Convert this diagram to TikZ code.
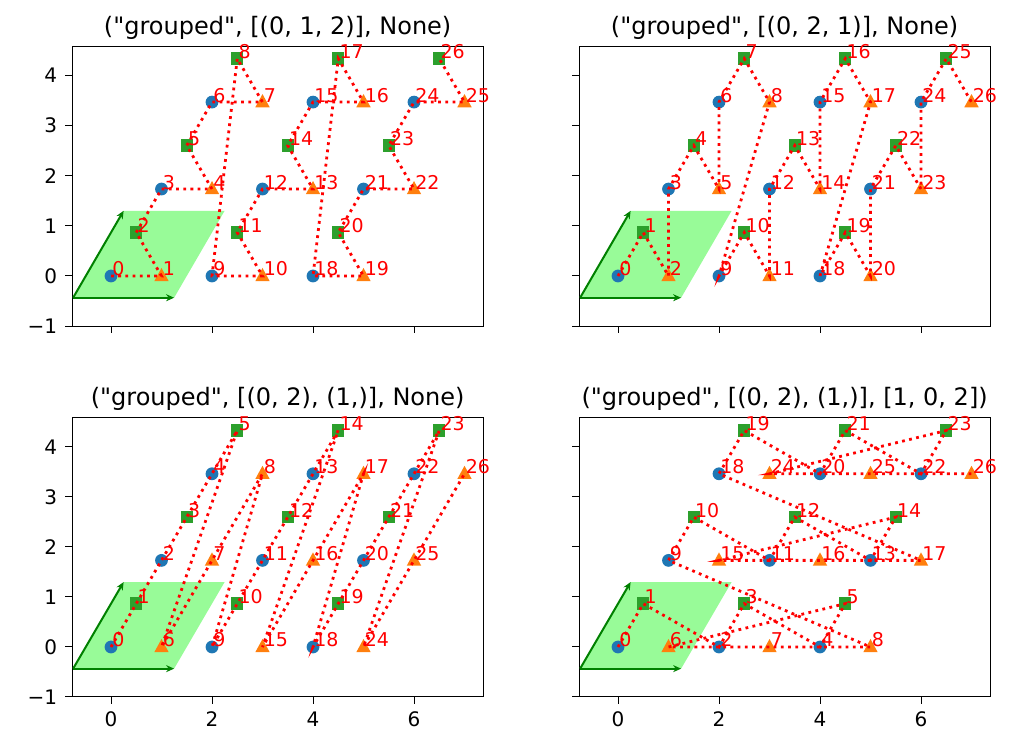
\documentclass[tikz,border=0pt]{standalone}
\usepackage{fontspec}
\setmainfont{DejaVu Sans}[Ligatures=TeXOff]
\usetikzlibrary{arrows.meta}
\definecolor{mblue}{HTML}{1F77B4}
\definecolor{morange}{HTML}{FF7F0E}
\definecolor{mgreen}{HTML}{2CA02C}
\definecolor{palegr}{RGB}{152,251,152}
\definecolor{dgreen}{HTML}{008000}
\newcommand\qq{"}
\tikzset{
  lbl/.style={anchor=base west,inner sep=0.5pt,text=red,font=\fontsize{9.5}{11}\selectfont},
  tick/.style={font=\fontsize{10}{12}\selectfont},
  ttl/.style={font=\fontsize{12}{14}\selectfont,anchor=base},
  chain/.style={red,line width=1.4pt,dash pattern=on 1.4pt off 2.2pt},
}
\newcommand\mk[3]{% type, x, y
  \ifcase#1
    \fill[mblue] (#2,#3) circle (3.2pt);
  \or
    \fill[morange] (#2,#3) ++(0,4pt) -- ++(-3.6pt,-6.6pt) -- ++(7.2pt,0) -- cycle;
  \or
    \fill[mgreen] (#2,#3) ++(-3.1pt,-3.1pt) rectangle ++(6.2pt,6.2pt);
  \fi}
\newcommand\axesbox[3]{% showx, showy, title
  \draw[line width=0.5pt] (-0.77,-1) rectangle (7.37,4.58);
  \foreach \t in {0,2,4,6}{\draw[line width=0.5pt] (\t,-1) -- ++(0,-3.5pt);
    \ifnum#1=1 \node[tick,anchor=north] at ([yshift=-4pt]\t,-1) {\t};\fi}
  \foreach \t in {-1,0,1,2,3,4}{\draw[line width=0.5pt] (-0.77,\t) -- ++(-3.5pt,0);
    \ifnum#2=1 \node[tick,anchor=east] at ([xshift=-4pt]-0.77,\t) {\ifnum\t<0 −1\else\t\fi};\fi}
  \node[ttl] at ([yshift=6pt]3.3,4.58) {#3};
  \fill[palegr] (-0.75,-0.433) -- ++(2,0) -- ++(1,1.732) -- ++(-2,0) -- cycle;
  \draw[-{Stealth[length=4pt,width=3.5pt]},dgreen,line width=1pt] (-0.75,-0.433) -- ++(2,0);
  \draw[-{Stealth[length=4pt,width=3.5pt]},dgreen,line width=1pt] (-0.75,-0.433) -- ++(1,1.732);
}
\newcommand\place[5]{% prefix, n, type, x, y
  \coordinate (#1#2) at (#4,#5);
  \mk{#3}{#4}{#5}}
\newcommand\finish[1]{%
  \draw[chain] (#10) \foreach \n in {1,...,26}{ -- (#1\n)};
  \foreach \n in {0,...,26}{\node[lbl] at (#1\n) {\n};}}
\begin{document}
\begin{tikzpicture}[x=0.5pt,y=-0.5pt]
\useasboundingbox (0,0) rectangle (1012,747);
% panel A
\begin{scope}[shift={(111,276)},x=25.25pt,y=25.1pt]
\axesbox{0}{1}{(\qq grouped\qq, [(0, 1, 2)], None)}
\foreach \i in {0,1,2}{\foreach \j in {0,1,2}{\foreach \b/\bx/\by in {0/0/0,1/1/0,2/0.5/0.866}{
  \pgfmathtruncatemacro\n{9*\i+3*\j+\b}
  \pgfmathsetmacro\px{2*\i+\j+\bx}\pgfmathsetmacro\py{1.732*\j+\by}
  \place{A}{\n}{\b}{\px}{\py}}}}
\finish{A}
\end{scope}
% panel B
\begin{scope}[shift={(618,276)},x=25.25pt,y=25.1pt]
\axesbox{0}{0}{(\qq grouped\qq, [(0, 2, 1)], None)}
\foreach \i in {0,1,2}{\foreach \j in {0,1,2}{\foreach \k/\b/\bx/\by in {0/0/0/0,1/2/0.5/0.866,2/1/1/0}{
  \pgfmathtruncatemacro\n{9*\i+3*\j+\k}
  \pgfmathsetmacro\px{2*\i+\j+\bx}\pgfmathsetmacro\py{1.732*\j+\by}
  \place{B}{\n}{\b}{\px}{\py}}}}
\finish{B}
\end{scope}
% panel C
\begin{scope}[shift={(111,647)},x=25.25pt,y=25pt]
\axesbox{1}{1}{(\qq grouped\qq, [(0, 2), (1,)], None)}
\foreach \i in {0,1,2}{\foreach \j in {0,1,2}{\foreach \k/\b/\bx/\by in {0/0/0/0,1/2/0.5/0.866}{
  \pgfmathtruncatemacro\n{9*\i+2*\j+\k}
  \pgfmathsetmacro\px{2*\i+\j+\bx}\pgfmathsetmacro\py{1.732*\j+\by}
  \place{C}{\n}{\b}{\px}{\py}}
  \pgfmathtruncatemacro\n{9*\i+6+\j}
  \pgfmathsetmacro\px{2*\i+\j+1}\pgfmathsetmacro\py{1.732*\j}
  \place{C}{\n}{1}{\px}{\py}}}
\finish{C}
\end{scope}
% panel D
\begin{scope}[shift={(618,647)},x=25.25pt,y=25pt]
\axesbox{1}{0}{(\qq grouped\qq, [(0, 2), (1,)], [1, 0, 2])}
\foreach \j in {0,1,2}{\foreach \i in {0,1,2}{\foreach \k/\b/\bx/\by in {0/0/0/0,1/2/0.5/0.866}{
  \pgfmathtruncatemacro\n{9*\j+2*\i+\k}
  \pgfmathsetmacro\px{2*\i+\j+\bx}\pgfmathsetmacro\py{1.732*\j+\by}
  \place{D}{\n}{\b}{\px}{\py}}
  \pgfmathtruncatemacro\n{9*\j+6+\i}
  \pgfmathsetmacro\px{2*\i+\j+1}\pgfmathsetmacro\py{1.732*\j}
  \place{D}{\n}{1}{\px}{\py}}}
\finish{D}
\end{scope}
\end{tikzpicture}
\end{document}
